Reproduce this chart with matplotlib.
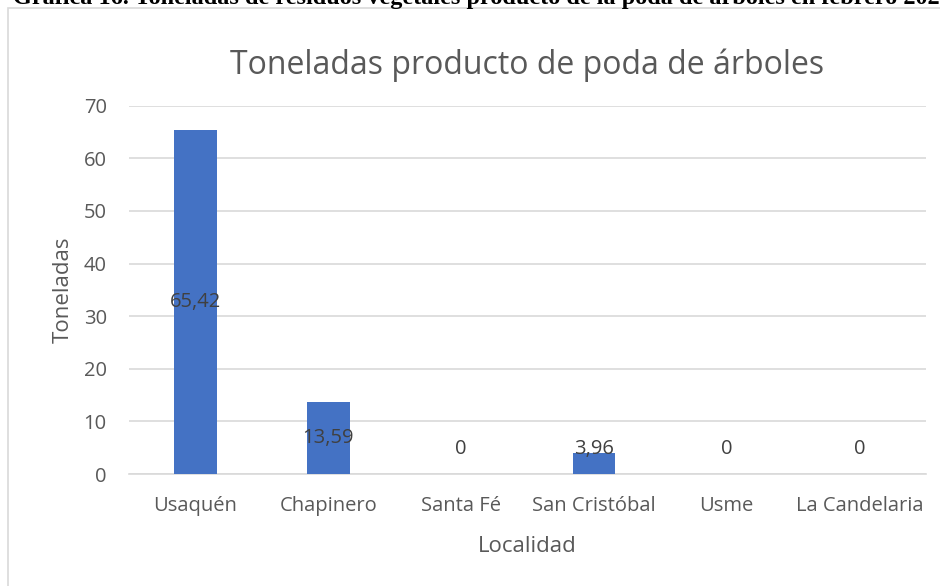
import matplotlib.pyplot as plt
from matplotlib.patches import Rectangle

localidades = ["Usaquén", "Chapinero", "Santa Fé", "San Cristóbal", "Usme", "La Candelaria"]
toneladas = [65.42, 13.59, 0, 3.96, 0, 0]
etiquetas = ["65,42", "13,59", "0", "3,96", "0", "0"]
y_ticks = [0, 10, 20, 30, 40, 50, 60, 70]

W, H = 940, 586
fig = plt.figure(figsize=(W / 100, H / 100), dpi=100)
plt.rcParams['font.family'] = ['Open Sans', 'DejaVu Sans']

# marco del gráfico
fig.patches.append(Rectangle((8 / W, -0.1), 1.2, 1 - 8 / H + 0.1, transform=fig.transFigure,
                             fill=False, edgecolor='#d9d9d9', lw=1.2))

# pie de gráfica (recortado arriba, como en el documento)
fig.text(13 / W, 1 - 4 / H,
         "Gráfica 16. Toneladas de residuos vegetales producto de la poda de árboles en febrero 2022",
         family='Liberation Serif', weight='bold', fontsize=17.5, va='baseline', ha='left')

ax = fig.add_axes([129 / W, 1 - 474 / H, (926 - 129) / W, (474 - 105.7) / H])
x = range(len(localidades))
ax.bar(x, toneladas, width=0.32, color='#4472C4', zorder=3)
for i, v in enumerate(toneladas):
    ax.text(i, max(v / 2, 4.8), etiquetas[i], ha='center', va='center',
            fontsize=14.5, color='#404040', zorder=4)

ax.set_xlim(-0.5, len(localidades) - 0.5)
ax.set_ylim(0, 70)
ax.set_yticks(y_ticks)
ax.set_xticks(list(x))
ax.set_xticklabels(localidades)
ax.yaxis.grid(True, color='#d9d9d9', lw=1.2, zorder=0)
ax.tick_params(length=0, labelsize=14.5, colors='#595959')
ax.tick_params(axis='x', pad=16)
ax.tick_params(axis='y', pad=16)
for s in ax.spines.values():
    s.set_visible(False)
ax.spines['bottom'].set_visible(True)
ax.spines['bottom'].set_color('#d9d9d9')
ax.spines['bottom'].set_linewidth(1.2)

ax.set_title("Toneladas producto de poda de árboles", fontsize=23, color='#595959', pad=22.5)
ax.set_xlabel("Localidad", fontsize=16, color='#595959', labelpad=14)
ax.set_ylabel("Toneladas", fontsize=16, color='#595959', labelpad=7)

fig.savefig("out.png", dpi=100)
